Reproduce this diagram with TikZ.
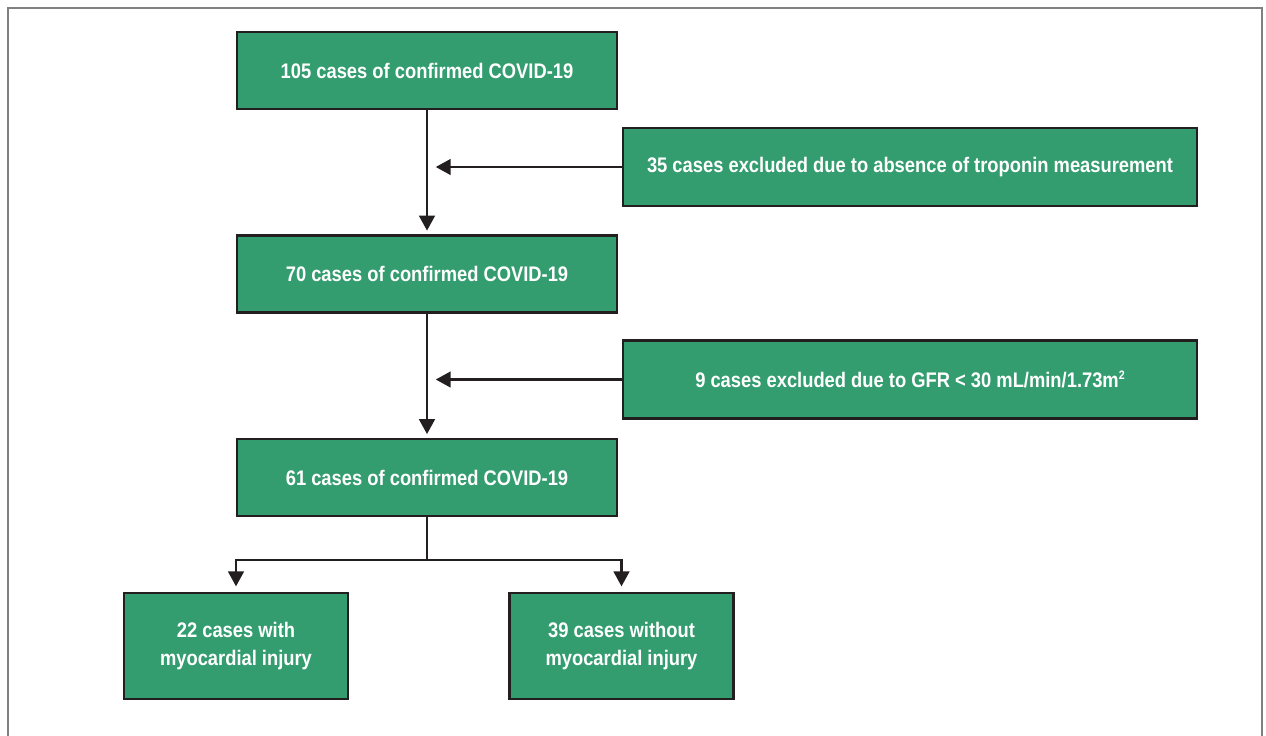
\documentclass[tikz,border=0pt]{standalone}
\usepackage{fontspec}
\setmainfont{Liberation Sans}[FakeStretch=0.87]
\usepackage{tikz}
\usetikzlibrary{arrows.meta}
\usetikzlibrary{positioning}
\definecolor{flowgreen}{RGB}{51,157,111}
\definecolor{flowline}{RGB}{35,31,32}
\newcommand{\smallsq}{\raisebox{0.75ex}{\fontsize{7}{7}\selectfont 2}}

\begin{document}
\begin{tikzpicture}[x=0.02cm,y=-0.02cm,
    box/.style={draw=flowline,line width=1.6pt,fill=flowgreen,text=white,
                font=\fontsize{12}{16}\selectfont\bfseries,align=center,
                inner sep=0pt},
    wide/.style={box,minimum width=380*0.02cm,minimum height=77*0.02cm},
    side/.style={box,minimum width=574*0.02cm,minimum height=78*0.02cm},
    leaf/.style={box,minimum width=224*0.02cm,minimum height=106*0.02cm},
    arr/.style={draw=flowline,line width=1.2pt,-{Triangle[length=8.5pt,width=9pt]}},
    ln/.style={draw=flowline,line width=1.2pt}]
      \useasboundingbox (0,0) rectangle (1266,735);
      \draw[gray,line width=1.1pt] (8,745) -- (8,8) -- (1262,8) -- (1262,745);

      % main column
      \node[wide] (c105) at (427,70.5)  {105 cases of confirmed COVID-19};
      \node[wide] (c70)  at (427,274)   {70 cases of confirmed COVID-19};
      \node[wide] (c61)  at (427,477.5) {61 cases of confirmed COVID-19};

      % exclusions
      \node[side] (ex35) at (910,167)   {35 cases excluded due to absence of troponin measurement};
      \node[side] (ex9)  at (910,379.5) {9 cases excluded due to GFR < 30 mL/min/1.73m\smallsq};

      % outcome groups
      \node[leaf] (inj)   at (236,646)   {22 cases with\\myocardial injury};
      \node[leaf] (noinj) at (621.5,646) {39 cases without\\myocardial injury};

      \draw[arr,shorten >=2pt] (c105.south) -- (c70.north);
      \draw[arr,shorten >=2pt] (c70.south) -- (c61.north);
      \draw[arr,shorten >=5pt] (ex35.west) -- (ex35.west -| c105.south);
      \draw[arr,shorten >=5pt] (ex9.west) -- (ex9.west -| c70.south);

      \draw[ln] (c61.south) -- ++(0,43) coordinate (split);
      \draw[arr,shorten >=3pt] (split) -| (inj.north);
      \draw[arr,shorten >=3pt] (split) -| (noinj.north);
    \end{tikzpicture}
\end{document}
